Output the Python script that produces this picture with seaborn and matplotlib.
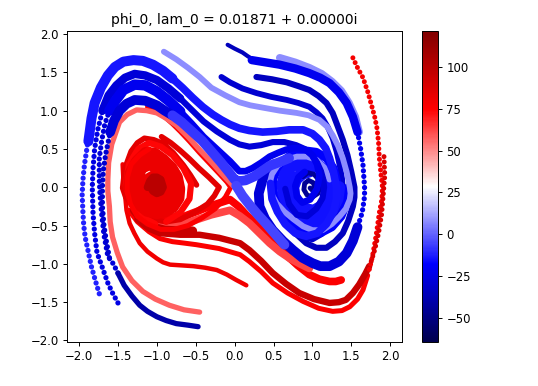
import numpy as np
import pandas as pd
import seaborn as sns
import matplotlib.pyplot as plt
from matplotlib.colors import Normalize
from matplotlib.cm import ScalarMappable

# Trajectories (x, y in data units), one pair of lists each
# Outer blue strands, sparse on the left side of the phase plane
a1_dots_x = [-1.74, -1.79, -1.84, -1.88, -1.92, -1.94, -1.95, -1.96, -1.95, -1.93, -1.90, -1.86]
a1_dots_y = [-1.39, -1.22, -1.04, -0.85, -0.66, -0.50, -0.33, -0.10, 0.10, 0.30, 0.50, 0.80]
a1_x = [-1.88, -1.84, -1.80, -1.72, -1.63, -1.54, -1.43, -1.30, -1.18, -1.05, -0.92, -0.80, -0.67, -0.54, -0.41, -0.28, -0.17, -0.06, 0.06, 0.19, 0.36, 0.54, 0.70, 0.88, 1.00, 1.09, 1.17, 1.22, 1.27, 1.31, 1.31, 1.27, 1.18, 1.06, 0.92, 0.78, 0.65, 0.55, 0.48, 0.46]
a1_y = [0.60, 0.90, 1.10, 1.30, 1.46, 1.57, 1.64, 1.66, 1.65, 1.60, 1.52, 1.42, 1.30, 1.17, 1.05, 0.95, 0.88, 0.82, 0.77, 0.74, 0.72, 0.73, 0.75, 0.75, 0.70, 0.62, 0.51, 0.38, 0.20, 0.00, -0.15, -0.32, -0.48, -0.60, -0.64, -0.60, -0.48, -0.32, -0.15, 0.05]

a2_dots_x = [-1.50, -1.57, -1.63, -1.70, -1.77, -1.80, -1.82, -1.83, -1.82, -1.80, -1.76, -1.70]
a2_dots_y = [-1.51, -1.38, -1.25, -1.05, -0.85, -0.60, -0.35, 0.00, 0.25, 0.50, 0.75, 1.00]
a2_x = [-1.70, -1.62, -1.52, -1.41, -1.285, -1.15, -1.00, -0.85, -0.70, -0.55, -0.40, -0.23, -0.06, 0.06, 0.19, 0.34, 0.49, 0.64, 0.79, 0.90, 0.99, 1.06, 1.11, 1.14, 1.15, 1.13, 1.05, 0.93, 0.80, 0.70, 0.65]
a2_y = [1.00, 1.20, 1.33, 1.43, 1.48, 1.46, 1.40, 1.29, 1.16, 1.01, 0.86, 0.73, 0.62, 0.56, 0.53, 0.55, 0.59, 0.59, 0.55, 0.50, 0.42, 0.32, 0.21, 0.10, 0.00, -0.14, -0.28, -0.38, -0.36, -0.22, -0.02]

a3_dots_x = [-1.50, -1.56, -1.63, -1.68, -1.71, -1.73, -1.74, -1.74, -1.71, -1.67, -1.61]
a3_dots_y = [-1.12, -1.00, -0.90, -0.62, -0.34, -0.10, 0.10, 0.38, 0.60, 0.82, 1.00]
a3_x = [-0.47, -0.60, -0.75, -0.88, -1.00, -1.12, -1.22, -1.32, -1.42, -1.50]
a3_y = [-1.82, -1.80, -1.78, -1.74, -1.69, -1.62, -1.54, -1.42, -1.28, -1.12]
a3b_x = [-1.61, -1.54, -1.43, -1.285, -1.15, -1.00, -0.85, -0.70, -0.55, -0.40, -0.23, -0.06, 0.06, 0.14, 0.23, 0.34, 0.45, 0.56, 0.66, 0.75, 0.83, 0.93, 1.00, 1.06, 1.09, 1.06, 0.97, 0.87, 0.80, 0.78, 0.82, 0.90]
a3b_y = [1.00, 1.12, 1.27, 1.34, 1.33, 1.25, 1.13, 0.99, 0.83, 0.66, 0.50, 0.34, 0.21, 0.21, 0.25, 0.32, 0.40, 0.45, 0.49, 0.51, 0.51, 0.48, 0.42, 0.30, 0.15, -0.02, -0.16, -0.20, -0.12, 0.02, 0.13, 0.20]

a4_dots_x = [-1.61, -1.65, -1.68, -1.70, -1.70, -1.69, -1.66, -1.60]
a4_dots_y = [-0.92, -0.70, -0.50, -0.25, 0.00, 0.20, 0.42, 0.72]
a4_x = [-1.60, -1.55, -1.48, -1.39, -1.285, -1.15, -1.00, -0.90, -0.80, -0.68, -0.55, -0.42, -0.30, -0.18, -0.06, 0.00, 0.06, 0.14, 0.25, 0.35, 0.45, 0.58, 0.70]
a4_y = [0.72, 0.87, 1.00, 1.09, 1.14, 1.13, 1.07, 1.00, 0.94, 0.85, 0.73, 0.61, 0.47, 0.33, 0.18, 0.10, 0.08, 0.09, 0.14, 0.21, 0.28, 0.33, 0.38]

# Saddle band running down to the lower right
saddle_x = [0.02, 0.10, 0.20, 0.30, 0.40, 0.52, 0.64]
saddle_y = [0.02, -0.11, -0.24, -0.36, -0.47, -0.61, -0.75]

# Strands that start above the right well
light_top_x = [-0.91, -0.75, -0.60, -0.45, -0.30, -0.12, 0.06, 0.20, 0.36, 0.58, 0.80, 0.95, 1.09, 1.19, 1.26, 1.33, 1.39, 1.44, 1.48, 1.49, 1.48, 1.43, 1.35, 1.25, 1.13, 1.00, 0.88, 0.76, 0.64, 0.54, 0.47, 0.45, 0.48, 0.55, 0.66, 0.80, 0.93, 1.05, 1.15, 1.22]
light_top_y = [1.77, 1.67, 1.56, 1.44, 1.30, 1.20, 1.11, 1.07, 1.04, 1.00, 0.97, 0.94, 0.88, 0.79, 0.68, 0.54, 0.38, 0.20, 0.00, -0.08, -0.16, -0.28, -0.38, -0.48, -0.56, -0.56, -0.51, -0.42, -0.32, -0.21, -0.08, 0.05, 0.17, 0.28, 0.36, 0.40, 0.40, 0.36, 0.26, 0.10]
light_edge_x = [0.58, 0.78, 0.96, 1.12, 1.25, 1.37, 1.47, 1.55, 1.60]
light_edge_y = [1.69, 1.63, 1.56, 1.48, 1.38, 1.26, 1.10, 0.92, 0.72]
r1_x = [-0.09, 0.00, 0.10, 0.17, 0.25]
r1_y = [1.86, 1.81, 1.76, 1.71, 1.66]
r1b_x = [0.22, 0.40, 0.58, 0.78, 0.96, 1.10, 1.22, 1.34, 1.44, 1.52, 1.58]
r1b_y = [1.66, 1.63, 1.60, 1.55, 1.49, 1.43, 1.36, 1.24, 1.10, 0.92, 0.72]
r1_dots_x = [1.58, 1.62, 1.65, 1.67, 1.67, 1.64, 1.58]
r1_dots_y = [0.72, 0.50, 0.29, 0.00, -0.12, -0.33, -0.52]
r1c_x = [1.58, 1.52, 1.44, 1.34, 1.22, 1.10, 1.00, 0.87, 0.75, 0.62, 0.49, 0.39, 0.32, 0.31, 0.36, 0.42, 0.50]
r1c_y = [-0.52, -0.70, -0.86, -0.97, -1.03, -1.03, -0.99, -0.92, -0.82, -0.70, -0.56, -0.41, -0.25, -0.08, 0.10, 0.20, 0.30]
r2_x = [0.28, 0.48, 0.67, 0.82, 0.96, 1.08, 1.18, 1.26, 1.32, 1.39, 1.45, 1.50, 1.54, 1.54, 1.52, 1.46, 1.39, 1.29, 1.18, 1.05, 0.92, 0.79, 0.67, 0.57, 0.49, 0.48, 0.52, 0.60, 0.70]
r2_y = [1.44, 1.41, 1.37, 1.32, 1.27, 1.19, 1.10, 0.97, 0.81, 0.62, 0.42, 0.20, 0.00, -0.13, -0.25, -0.44, -0.60, -0.71, -0.79, -0.79, -0.73, -0.61, -0.46, -0.29, -0.12, 0.02, 0.15, 0.26, 0.35]
s4_x = [-0.17, -0.06, 0.10, 0.28, 0.47, 0.67, 0.82, 0.96, 1.05, 1.13, 1.20, 1.26, 1.31, 1.35, 1.38, 1.39, 1.37, 1.30, 1.22, 1.12, 1.00, 0.88, 0.78, 0.69, 0.62, 0.59, 0.60]
s4_y = [1.44, 1.37, 1.29, 1.23, 1.18, 1.14, 1.10, 1.05, 0.98, 0.90, 0.78, 0.64, 0.47, 0.29, 0.12, 0.00, -0.15, -0.35, -0.50, -0.61, -0.68, -0.65, -0.58, -0.45, -0.30, -0.15, 0.00]

# Inner spiral of the right well
well_mid_x = [1.46, 1.44, 1.37, 1.25, 1.10, 0.95, 0.80, 0.67, 0.56, 0.50, 0.49, 0.54, 0.63, 0.75, 0.90, 1.05, 1.18, 1.27, 1.31, 1.30]
well_mid_y = [0.00, -0.20, -0.38, -0.52, -0.60, -0.58, -0.50, -0.38, -0.22, -0.06, 0.10, 0.24, 0.35, 0.44, 0.48, 0.46, 0.38, 0.25, 0.10, -0.03]
well_r_x = [1.34, 1.32, 1.25, 1.13, 1.00, 0.87, 0.76, 0.68, 0.63, 0.62, 0.65, 0.72, 0.82, 0.93, 1.05, 1.14, 1.21, 1.23, 1.20, 1.12, 1.02, 0.91, 0.82, 0.76, 0.75, 0.79, 0.87, 0.96]
well_r_y = [0.00, -0.15, -0.30, -0.42, -0.47, -0.43, -0.33, -0.21, -0.08, 0.05, 0.17, 0.27, 0.33, 0.35, 0.31, 0.22, 0.10, -0.03, -0.15, -0.25, -0.31, -0.29, -0.22, -0.11, 0.00, 0.11, 0.18, 0.21]
core_r_x = [0.88, 0.94, 1.02, 1.08, 1.10, 1.07, 1.00, 0.93, 0.89, 0.90, 0.95, 1.01, 1.03, 1.00, 0.97]
core_r_y = [0.14, 0.19, 0.17, 0.10, 0.01, -0.08, -0.13, -0.10, -0.03, 0.05, 0.09, 0.06, 0.00, -0.04, -0.01]

# Red strands, left well
pink_x = [-0.45, -0.65, -0.84, -1.02, -1.18, -1.32, -1.44, -1.51, -1.57, -1.60, -1.61, -1.63, -1.63, -1.62, -1.58, -1.48, -1.38, -1.26, -1.13, -1.00, -0.88, -0.75, -0.60, -0.45, -0.30, -0.15, -0.02]
pink_y = [-1.63, -1.60, -1.54, -1.46, -1.36, -1.22, -1.04, -0.85, -0.65, -0.45, -0.25, -0.05, 0.10, 0.32, 0.56, 0.85, 0.95, 1.01, 1.00, 0.97, 0.90, 0.81, 0.66, 0.49, 0.33, 0.16, 0.02]
red_top_x = [-1.12, -1.00, -0.90, -0.80, -0.70, -0.58, -0.45, -0.32, -0.20, -0.10, -0.05, -0.12, -0.25, -0.42, -0.60, -0.78, -0.95, -1.12, -1.25, -1.34, -1.38, -1.38, -1.33, -1.22, -1.10]
red_top_y = [1.05, 0.99, 0.92, 0.83, 0.73, 0.60, 0.45, 0.31, 0.18, 0.07, 0.00, -0.13, -0.28, -0.40, -0.50, -0.55, -0.55, -0.48, -0.38, -0.22, -0.05, 0.13, 0.30, 0.42, 0.50]
ring_x = [-0.94, -0.82, -0.70, -0.58, -0.46, -0.33, -0.20, -0.26, -0.35, -0.52, -0.70, -0.88, -1.05, -1.20, -1.30, -1.40, -1.44, -1.41, -1.33, -1.25, -1.16, -1.04, -0.92, -0.79, -0.66, -0.57, -0.49]
ring_y = [0.66, 0.58, 0.48, 0.37, 0.25, 0.13, 0.00, -0.11, -0.22, -0.33, -0.42, -0.45, -0.42, -0.35, -0.25, -0.13, -0.01, 0.25, 0.47, 0.58, 0.64, 0.62, 0.57, 0.45, 0.29, 0.16, 0.03]
ring_in_x = [-1.02, -1.20, -1.33, -1.40, -1.36, -1.24, -1.10, -0.95, -0.80, -0.66, -0.56, -0.58, -0.70, -0.88]
ring_in_y = [-0.48, -0.38, -0.20, 0.02, 0.30, 0.50, 0.58, 0.53, 0.42, 0.25, 0.05, -0.15, -0.33, -0.45]
low1_x = [0.15, 0.02, -0.10, -0.23, -0.38, -0.53, -0.68, -0.83, -0.92, -1.00, -1.12, -1.22, -1.29, -1.35, -1.39, -1.41, -1.43, -1.44]
low1_y = [-1.28, -1.21, -1.14, -1.08, -1.05, -1.03, -1.02, -1.01, -0.98, -0.93, -0.84, -0.73, -0.60, -0.47, -0.30, -0.08, 0.10, 0.30]
red_low_x = [-1.36, -1.25, -1.10, -0.96, -0.80, -0.64, -0.49, -0.20, 0.07, 0.19, 0.34, 0.49, 0.68, 0.88, 1.08, 1.26, 1.38, 1.48, 1.58, 1.65, 1.71]
red_low_y = [-0.30, -0.45, -0.58, -0.67, -0.71, -0.73, -0.75, -0.80, -0.88, -0.97, -1.10, -1.25, -1.38, -1.49, -1.58, -1.62, -1.61, -1.56, -1.46, -1.34, -1.15]
dark_low_x = [-1.25, -1.10, -0.96, -0.70, -0.45, -0.20, 0.07, 0.19, 0.34, 0.49, 0.66, 0.83, 1.02, 1.22, 1.34, 1.43, 1.52, 1.60, 1.68, 1.73]
dark_low_y = [-0.42, -0.54, -0.60, -0.62, -0.62, -0.66, -0.73, -0.82, -0.96, -1.12, -1.26, -1.38, -1.46, -1.51, -1.50, -1.47, -1.38, -1.27, -1.13, -1.03]
dark_end_x = [-0.54, -0.72, -0.90, -1.09, -1.20, -1.29]
dark_end_y = [-0.57, -0.57, -0.56, -0.51, -0.41, -0.30]
fan1_x = [0.96, 0.84, 0.71, 0.58, 0.45, 0.32, 0.19, 0.06, -0.06, -0.18, -0.30, -0.45, -0.60, -0.75, -0.90, -1.05, -1.15]
fan1_y = [-1.06, -1.00, -0.93, -0.84, -0.73, -0.60, -0.47, -0.37, -0.30, -0.33, -0.36, -0.41, -0.46, -0.48, -0.48, -0.44, -0.38]
fan2_x = [1.37, 1.30, 1.22, 1.09, 0.96, 0.81, 0.66, 0.51, 0.36, 0.25, 0.15, 0.05, -0.06, -0.18, -0.30, -0.47, -0.65, -0.80, -0.95]
fan2_y = [-1.21, -1.23, -1.23, -1.20, -1.14, -1.02, -0.88, -0.72, -0.56, -0.45, -0.36, -0.25, -0.16, -0.20, -0.24, -0.31, -0.38, -0.39, -0.38]
red_dots_x = [1.52, 1.58, 1.65, 1.71, 1.76, 1.80, 1.83, 1.85, 1.86, 1.88, 1.90, 1.89, 1.86, 1.82, 1.77, 1.72]
red_dots_y = [1.69, 1.56, 1.43, 1.25, 1.07, 0.92, 0.77, 0.58, 0.38, 0.18, 0.00, -0.17, -0.33, -0.62, -0.91, -1.12]
dark_dots_x = [1.92, 1.93, 1.91, 1.89, 1.85, 1.80, 1.74]
dark_dots_y = [0.40, 0.15, -0.10, -0.35, -0.60, -0.82, -1.02]
blob_x = [-1.35, -1.33, -1.25, -1.14, -1.03, -0.92, -0.82, -0.75, -0.72, -0.73, -0.80, -0.90, -1.00, -1.12, -1.22, -1.29, -1.30, -1.26, -1.20, -1.10, -1.00, -0.91, -0.85, -0.82, -0.84, -0.92, -1.00, -1.08, -1.14, -1.15, -1.10, -1.05, -0.98]
blob_y = [0.00, 0.18, 0.33, 0.44, 0.43, 0.35, 0.25, 0.13, -0.02, -0.14, -0.25, -0.31, -0.33, -0.30, -0.22, -0.10, 0.02, 0.15, 0.26, 0.31, 0.27, 0.20, 0.10, 0.00, -0.08, -0.16, -0.18, -0.14, -0.08, 0.02, 0.10, 0.13, 0.08]
core_l_x = [-1.12, -1.09, -1.05, -1.00, -0.95, -0.92, -0.95, -1.00, -1.05, -1.08, -1.05, -1.00]
core_l_y = [0.00, 0.08, 0.13, 0.13, 0.10, 0.00, -0.06, -0.08, -0.05, 0.00, 0.05, 0.02]

phi_lo = -64.4
phi_hi = 121.5
tick_vals = [-50, -25, 0, 25, 50, 75, 100]

sns.set_style('ticks', {'axes.edgecolor': 'black', 'text.color': 'black', 'xtick.color': 'black', 'ytick.color': 'black'})
plt.rcParams['font.family'] = ['DejaVu Sans']
plt.rcParams['font.size'] = 8.4
plt.rcParams['axes.linewidth'] = 0.7

norm = Normalize(phi_lo, phi_hi)
cmap = plt.get_cmap('seismic')

fig = plt.figure(figsize=(5.38, 3.86), dpi=100)
ax = fig.add_axes([67 / 538, 1 - 342 / 386, 334.5 / 538, 311 / 386])
cax = fig.add_axes([422 / 538, 1 - 342 / 386, 16 / 538, 311 / 386])


def strand(xs, ys, val, lw, dots=False):
    df = pd.DataFrame({'x': xs, 'y': ys})
    if dots:
        kw = {'linestyle': (0, (0.01, 1.05)), 'dash_capstyle': 'round'}
    else:
        kw = {'solid_capstyle': 'round', 'solid_joinstyle': 'round'}
    sns.lineplot(data=df, x='x', y='y', sort=False, estimator=None, color=cmap(norm(val)),
                 linewidth=lw, ax=ax, **kw)


# Drawn back to front, red well first so the blue bands sit on it
strand(low1_x, low1_y, 80, 3.2)
strand(red_low_x, red_low_y, 76, 3.6)
strand(dark_low_x, dark_low_y, 95, 4.6)
strand(fan2_x, fan2_y, 76, 5.5)
strand(fan1_x, fan1_y, 62, 5.5)
strand(dark_end_x, dark_end_y, 95, 6.5)
strand(ring_x, ring_y, 85, 4.0)
strand(ring_in_x, ring_in_y, 74, 4.5)
strand(blob_x, blob_y, 82, 9.5)
strand(core_l_x, core_l_y, 100, 5.5)
strand(red_top_x, red_top_y, 76, 3.6)
strand(pink_x, pink_y, 57, 3.8)
strand(red_dots_x, red_dots_y, 78, 3.6, dots=True)
strand(dark_dots_x, dark_dots_y, 88, 3.6, dots=True)

strand(light_edge_x, light_edge_y, 8, 5.5)
strand(r1_x, r1_y, -35, 3.0)
strand(r1b_x, r1b_y, -22, 6.0)
strand(r1_dots_x, r1_dots_y, -22, 3.8, dots=True)
strand(r1c_x, r1c_y, -28, 7.0)
strand(r2_x, r2_y, -34, 4.4)
strand(s4_x, s4_y, -30, 4.2)
strand(well_mid_x, well_mid_y, -18, 6.0)
strand(well_r_x, well_r_y, -15, 9.0)
strand(light_top_x, light_top_y, 8, 4.2)
strand(core_r_x, core_r_y, -45, 3.5)

strand(a1_dots_x, a1_dots_y, -12, 3.8, dots=True)
strand(a1_x[:12], a1_y[:12], -14, 7.2)
strand(a1_x[11:], a1_y[11:], -14, 5.5)
strand(a2_dots_x, a2_dots_y, -25, 3.8, dots=True)
strand(a2_x[:9], a2_y[:9], -28, 6.0)
strand(a2_x[8:], a2_y[8:], -28, 4.4)
strand(a3_dots_x, a3_dots_y, -27, 3.8, dots=True)
strand(a3_x, a3_y, -40, 3.8)
strand(a3b_x[:8], a3b_y[:8], -22, 7.5)
strand(a3b_x[7:], a3b_y[7:], -22, 4.8)
strand(a4_dots_x, a4_dots_y, -30, 3.8, dots=True)
strand(a4_x[:9], a4_y[:9], -28, 7.0)
strand(a4_x[8:], a4_y[8:], -8, 7.0)
strand(saddle_x, saddle_y, -5, 7.0)

ax.set_xlim(-2.155, 2.145)
ax.set_ylim(-2.02, 2.04)
ax.set_xlabel('')
ax.set_ylabel('')
ax.set_xticks(np.arange(-2.0, 2.01, 0.5))
ax.set_yticks(np.arange(-2.0, 2.01, 0.5))
ax.tick_params(length=3, width=0.7, labelsize=8.4, pad=3)
ax.set_title('phi_0, lam_0 = 0.01871 + 0.00000i', fontsize=10, pad=5)

cb = fig.colorbar(ScalarMappable(norm=norm, cmap=cmap), cax=cax)
cb.set_ticks(tick_vals)
cb.ax.tick_params(length=3, width=0.7, labelsize=8.4, pad=3)
cb.outline.set_linewidth(0.7)

fig.savefig('out.png', dpi=100)
